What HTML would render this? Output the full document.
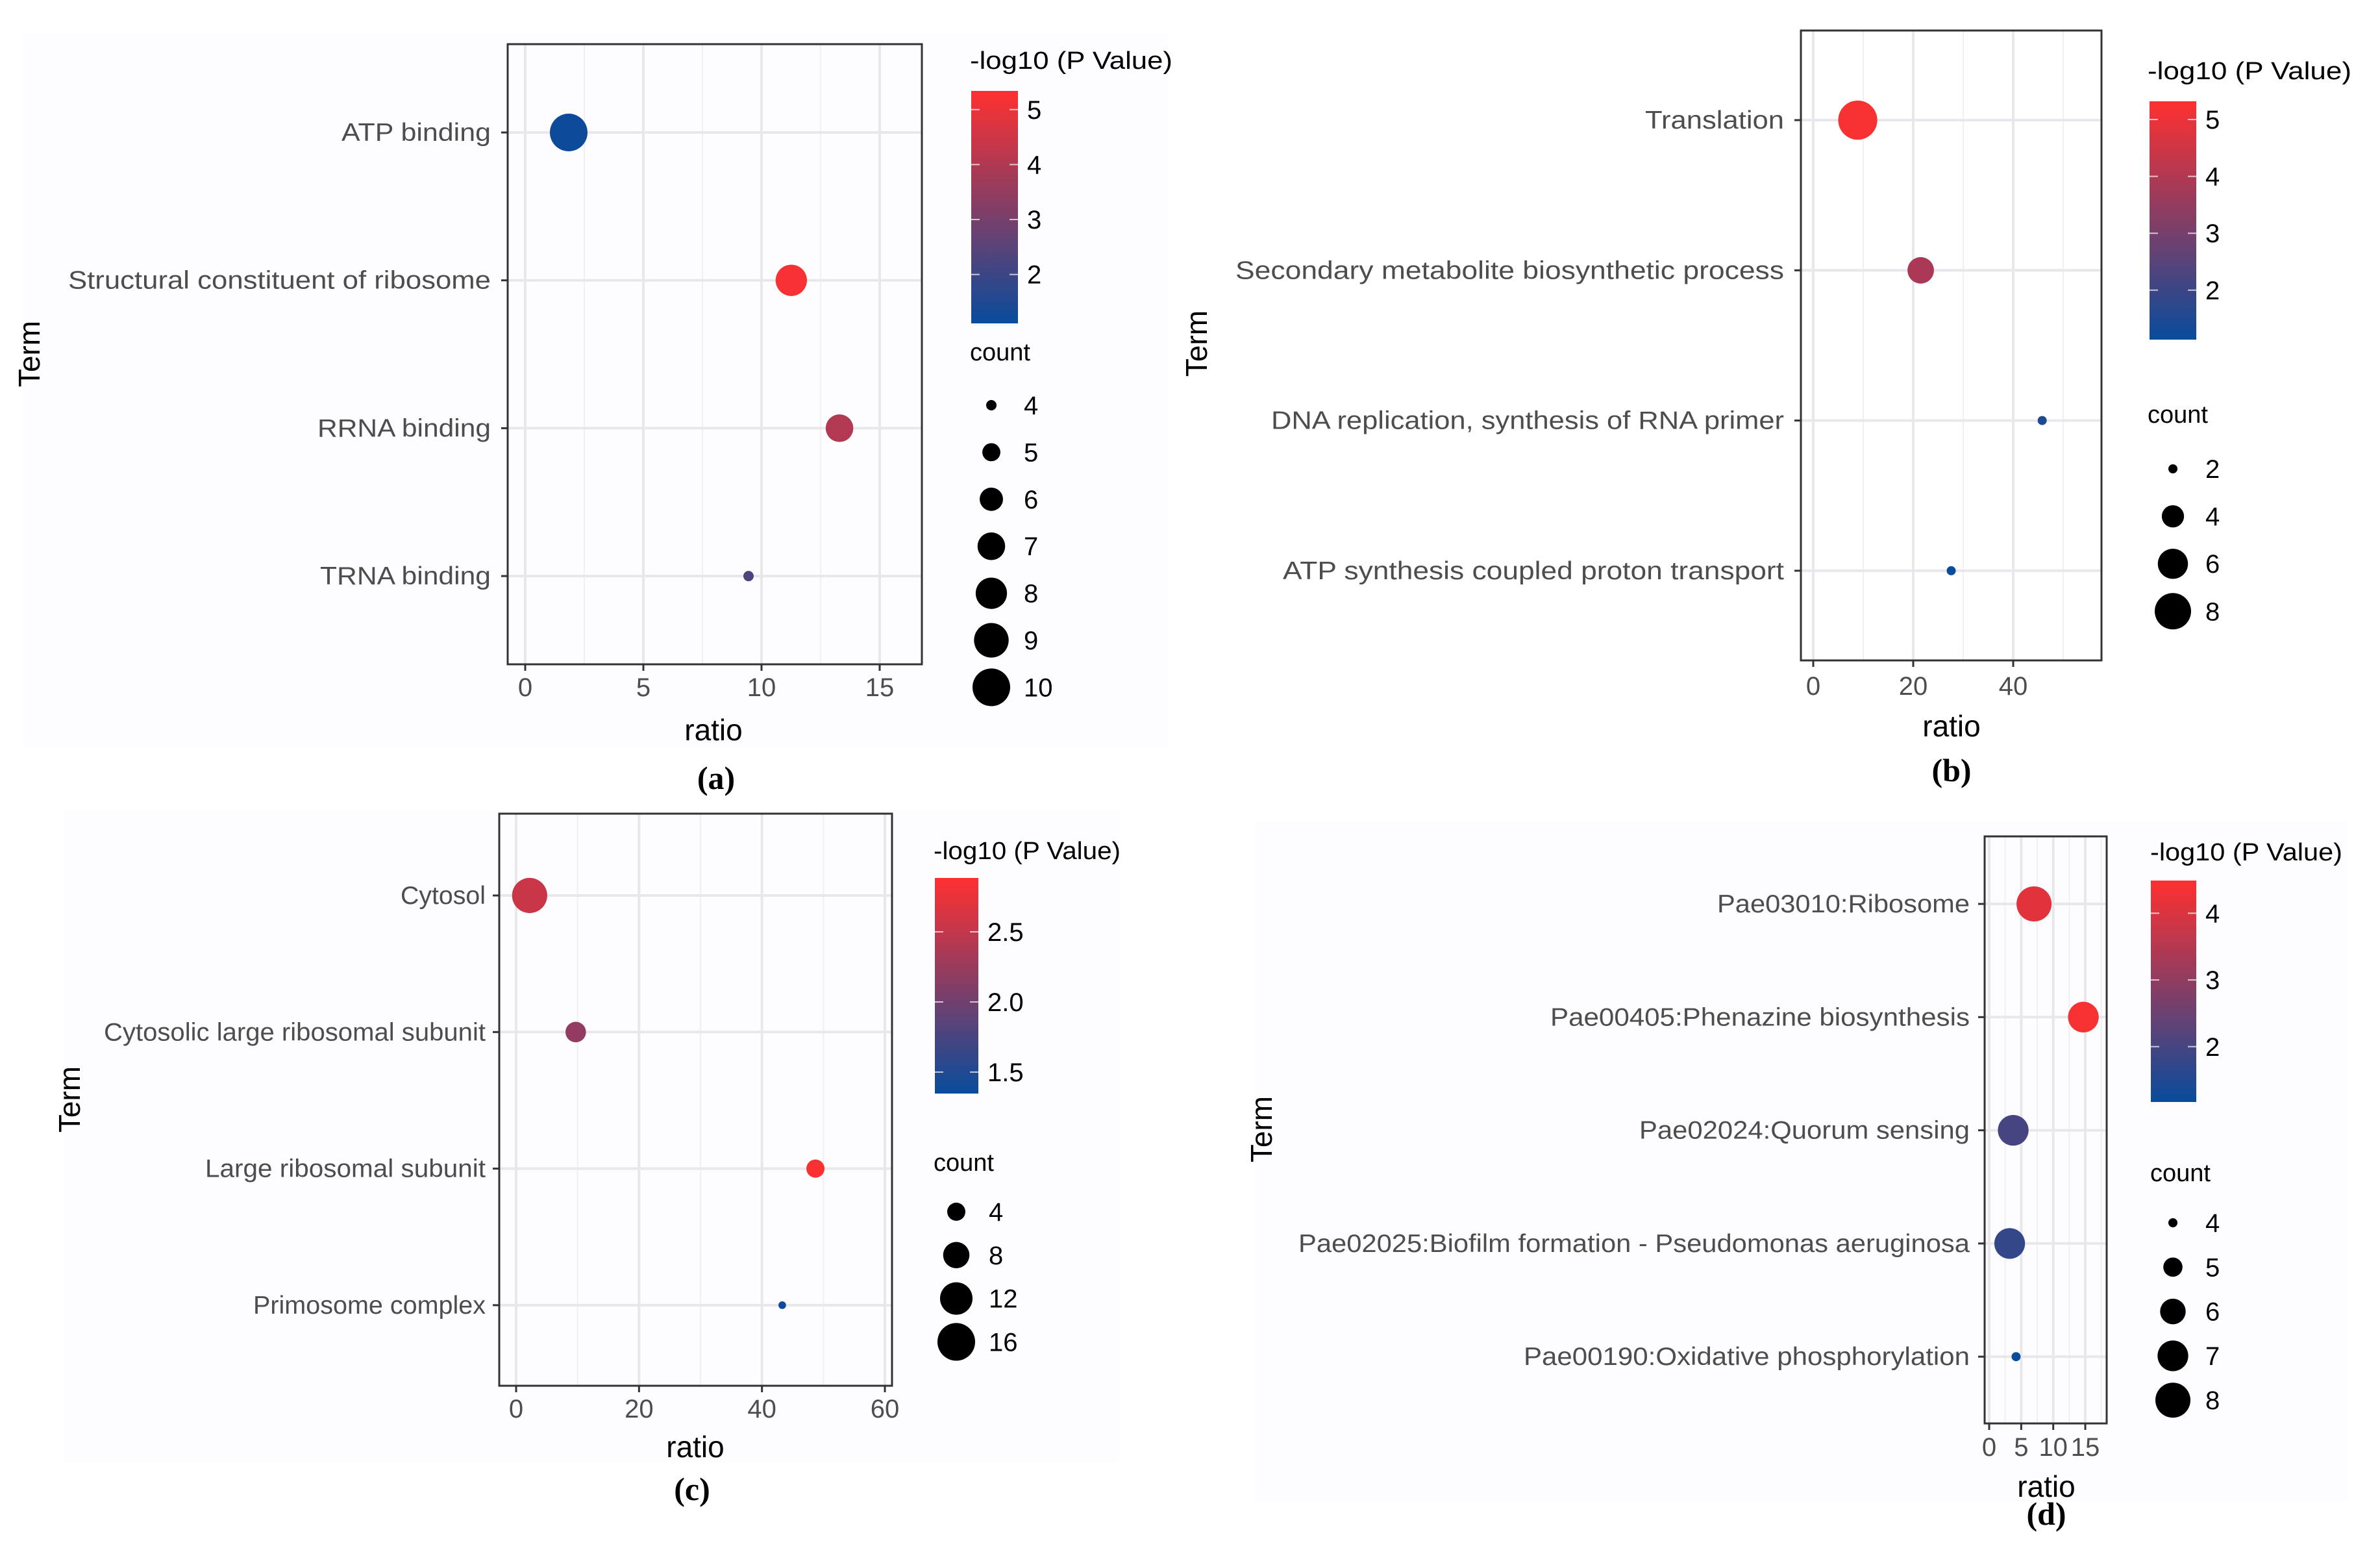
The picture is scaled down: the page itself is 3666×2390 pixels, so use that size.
<!DOCTYPE html>
<html><head><meta charset="utf-8"><style>
html,body{margin:0;padding:0;background:#fff;}
svg{display:block;font-family:"Liberation Sans",Arial,sans-serif;}
</style></head><body>
<svg id="fig" width="3666" height="2390" viewBox="0 0 3666 2390" xmlns="http://www.w3.org/2000/svg"></svg>
<script>
// ---------- Panel (a) data ----------
const aTerms = ["ATP binding","Structural constituent of ribosome","RRNA binding","TRNA binding"];
const aRatio = [1.84, 11.26, 13.3, 9.45];
const aPval = [1.2, 5.2, 4.0, 2.3];
const aCount = [10, 8, 7, 4];
const aXTicks = [0, 5, 10, 15];
const aCTicks = [2, 3, 4, 5];
const aSizeBreaks = [4, 5, 6, 7, 8, 9, 10];
// ---------- Panel (b) data ----------
const bTerms = ["Translation","Secondary metabolite biosynthetic process","DNA replication, synthesis of RNA primer","ATP synthesis coupled proton transport"];
const bRatio = [8.9, 21.5, 45.8, 27.6];
const bPval = [5.2, 3.9, 1.5, 1.15];
const bCount = [9, 5, 2, 2];
const bXTicks = [0, 20, 40];
const bCTicks = [2, 3, 4, 5];
const bSizeBreaks = [2, 4, 6, 8];
// ---------- Panel (c) data ----------
const cTerms = ["Cytosol","Cytosolic large ribosomal subunit","Large ribosomal subunit","Primosome complex"];
const cRatio = [2.2, 9.7, 48.7, 43.3];
const cPval = [2.55, 2.2, 2.85, 1.38];
const cCount = [14, 5, 4, 1];
const cXTicks = [0, 20, 40, 60];
const cCTicks = [1.5, 2.0, 2.5];
const cCTickLabels = ["1.5","2.0","2.5"];
const cSizeBreaks = [4, 8, 12, 16];
// ---------- Panel (d) data ----------
const dTerms = ["Pae03010:Ribosome","Pae00405:Phenazine biosynthesis","Pae02024:Quorum sensing","Pae02025:Biofilm formation - Pseudomonas aeruginosa","Pae00190:Oxidative phosphorylation"];
const dRatio = [7.0, 14.7, 3.75, 3.2, 4.2];
const dPval = [4.1, 4.4, 2.0, 1.75, 1.15];
const dCount = [8, 7, 7, 7, 4];
const dXTicks = [0, 5, 10, 15];
const dCTicks = [2, 3, 4];
const dSizeBreaks = [4, 5, 6, 7, 8];

const NS = "http://www.w3.org/2000/svg";
const svg = document.getElementById("fig");
function mk(tag, attrs, parent, txt){
  const e = document.createElementNS(NS, tag);
  for (const k in attrs) e.setAttribute(k, attrs[k]);
  if (txt !== undefined) e.textContent = txt;
  (parent || svg).appendChild(e);
  return e;
}
const LOW=[8,76,156], HIGH=[255,48,48];
function colorAt(t){t=Math.max(0,Math.min(1,t));
  const c=LOW.map((l,i)=>Math.round(l+(HIGH[i]-l)*t));return `rgb(${c[0]},${c[1]},${c[2]})`;}

function drawPanel(id, g, terms, ratio, pval, count, xTicks, cTicks, cLabels, sizeBreaks){
  const grp = mk("g", {});
  
  
  const bg = mk("rect", {x:g.bg[0], y:g.bg[1], width:g.bg[2]-g.bg[0], height:g.bg[3]-g.bg[1], fill:g.bgc || "#fdfcfe"}, grp);
  
  
  const xs = v => g.x0 + v*g.k;
  const ys = i => g.r0 + i*g.rs;
  const rad = c => Math.sqrt(Math.max(4, g.sa + g.sb*c));
  const ct = v => (v - g.cmin)/(g.cmax - g.cmin);
  const minorStep = (xTicks[1]-xTicks[0])/2;
  for (let v = xTicks[0]+minorStep; xs(v) < g.bx1; v += 2*minorStep){
    const l = mk("line", {x1:xs(v), x2:xs(v), y1:g.by0, y2:g.by1, stroke:"#f1eff3", "stroke-width":2}, grp);
    
    
  }
  xTicks.forEach(v=>{
    const l = mk("line", {x1:xs(v), x2:xs(v), y1:g.by0, y2:g.by1, stroke:"#e9e7ec", "stroke-width":4}, grp);
    
    
  });
  terms.forEach((t,i)=>{
    const l = mk("line", {x1:g.bx0, x2:g.bx1, y1:ys(i), y2:ys(i), stroke:"#e9e7ec", "stroke-width":4}, grp);
    
    
  });
  terms.forEach((t,i)=>{
    const c = mk("circle", {cx:xs(ratio[i]), cy:ys(i), r:rad(count[i]), fill:colorAt(ct(pval[i]))}, grp);
    
    
  });
  const bd = mk("rect", {x:g.bx0, y:g.by0, width:g.bx1-g.bx0, height:g.by1-g.by0, fill:"none", stroke:"#333", "stroke-width":3}, grp);
  
  
  terms.forEach((t,i)=>{
    mk("line", {x1:g.bx0-10, x2:g.bx0, y1:ys(i), y2:ys(i), stroke:"#333", "stroke-width":3}, grp);
    const tx = mk("text", {x:g.lr, y:ys(i)+13, "text-anchor":"end", "font-size":39, fill:"#4d4d4d",
      textLength: g.lr - g.ll[i], lengthAdjust:"spacingAndGlyphs"}, grp, t);
    
    
  });
  xTicks.forEach(v=>{
    mk("line", {x1:xs(v), x2:xs(v), y1:g.by1, y2:g.by1+10, stroke:"#333", "stroke-width":3}, grp);
    const tx = mk("text", {x:xs(v), y:g.tky+14, "text-anchor":"middle", "font-size":40, fill:"#4d4d4d"}, grp, String(v));
    
    
  });
  const xt = mk("text", {x:g.xtx, y:g.xty+16, "text-anchor":"middle", "font-size":46, fill:"#000"}, grp, "ratio");
  
  
  const yt = mk("text", {x:0, y:0, "text-anchor":"middle", "font-size":46, fill:"#000",
    transform:`translate(${g.ytx+16},${g.yty}) rotate(-90)`}, grp, "Term");
  
  
  const pl = mk("text", {x:g.px, y:g.py+17, "text-anchor":"middle", "font-size":50, "font-weight":"bold",
    "font-family":"'Liberation Serif',serif", fill:"#000"}, grp, "(" + id + ")");
  
  
  const gid = "grad" + id;
  const defs = mk("defs", {}, grp);
  const lg = mk("linearGradient", {id:gid, x1:0, y1:1, x2:0, y2:0}, defs);
  for (let s=0; s<=10; s++){ mk("stop", {offset:s/10, "stop-color":colorAt(s/10)}, lg); }
  const lt = mk("text", {x:g.ltx, y:g.lty+13, "font-size":38, fill:"#000", textLength:g.ltw, lengthAdjust:"spacingAndGlyphs"}, grp, "-log10 (P Value)");
  
  
  const cb = mk("rect", {x:g.cx, y:g.cy0, width:g.cw, height:g.cy1-g.cy0, fill:`url(#${gid})`}, grp);
  
  
  const cyv = v => g.cy1 - ct(v)*(g.cy1-g.cy0);
  cTicks.forEach((v,i)=>{
    mk("line", {x1:g.cx, x2:g.cx+13, y1:cyv(v), y2:cyv(v), stroke:"#fff", "stroke-width":2, opacity:0.7}, grp);
    mk("line", {x1:g.cx+g.cw-13, x2:g.cx+g.cw, y1:cyv(v), y2:cyv(v), stroke:"#fff", "stroke-width":2, opacity:0.7}, grp);
    const tx = mk("text", {x:g.cx+g.cw+14, y:cyv(v)+14, "font-size":40, fill:"#000"}, grp, cLabels ? cLabels[i] : String(v));
    
    
  });
  const st = mk("text", {x:g.ltx, y:g.sty+13, "font-size":38, fill:"#000"}, grp, "count");
  
  
  sizeBreaks.forEach((b,i)=>{
    const y = g.sy0 + i*g.ss;
    const c = mk("circle", {cx:g.scx, cy:y, r:rad(b), fill:"#000"}, grp);
    
    
    const tx = mk("text", {x:g.scx+50, y:y+14, "font-size":40, fill:"#000"}, grp, String(b));
    
    
  });
}

drawPanel("a", {bg:[35,51,1800,1151], bx0:782,bx1:1420,by0:68,by1:1023, x0:809,k:36.4, r0:204,rs:227.7,
  sa:-454, sb:129.5, cmin:1.11, cmax:5.34, cx:1496, cw:72, cy0:140, cy1:498,
  lr:756, ll:[526,105,489,493], tky:1058, xtx:1099, xty:1124, ytx:45, yty:545, px:1103, py:1198,
  ltx:1494, lty:93, ltw:312, sty:542, sy0:624, ss:72.4, scx:1527},
  aTerms, aRatio, aPval, aCount, aXTicks, aCTicks, null, aSizeBreaks);

drawPanel("b", {bg:[1840,30,3640,1150], bgc:"#ffffff", bx0:2774,bx1:3237,by0:47,by1:1017, x0:2793,k:7.7, r0:185,rs:231.3,
  sa:-196, sb:122.5, cmin:1.13, cmax:5.32, cx:3311, cw:72, cy0:156, cy1:523,
  lr:2748, ll:[2534,1903,1958,1976], tky:1056, xtx:3006, xty:1118, ytx:1843, yty:529, px:3006, py:1186,
  ltx:3308, lty:109, ltw:314, sty:638, sy0:722, ss:73.1, scx:3347},
  bTerms, bRatio, bPval, bCount, bXTicks, bCTicks, null, bSizeBreaks);

drawPanel("c", {bg:[99,1249,1724,2251], bx0:769,bx1:1374,by0:1253,by1:2134, x0:795,k:9.467, r0:1379,rs:210.3,
  sa:-19, sb:53.75, cmin:1.347, cmax:2.884, cx:1440, cw:67, cy0:1352, cy1:1684,
  lr:748, ll:[617,160,316,390], tky:2169, xtx:1071, xty:2228, ytx:107, yty:1693, px:1066, py:2293,
  ltx:1438, lty:1310, ltw:288, sty:1790, sy0:1866, ss:66.8, scx:1473},
  cTerms, cRatio, cPval, cCount, cXTicks, cCTicks, cCTickLabels, cSizeBreaks);

drawPanel("d", {bg:[1932,1265,3616,2312], bx0:3057,bx1:3245,by0:1288,by1:2192, x0:3064,k:9.87, r0:1392,rs:174.3,
  sa:-631, sb:170, cmin:1.17, cmax:4.49, cx:3313, cw:70, cy0:1356, cy1:1697,
  lr:3034, ll:[2645,2388,2525,2000,2347], tky:2228, xtx:3152, xty:2289, ytx:1943, yty:1739, px:3152, py:2331,
  ltx:3312, lty:1312, ltw:296, sty:1806, sy0:1883, ss:68.3, scx:3347},
  dTerms, dRatio, dPval, dCount, dXTicks, dCTicks, null, dSizeBreaks);
</script>
</body></html>
